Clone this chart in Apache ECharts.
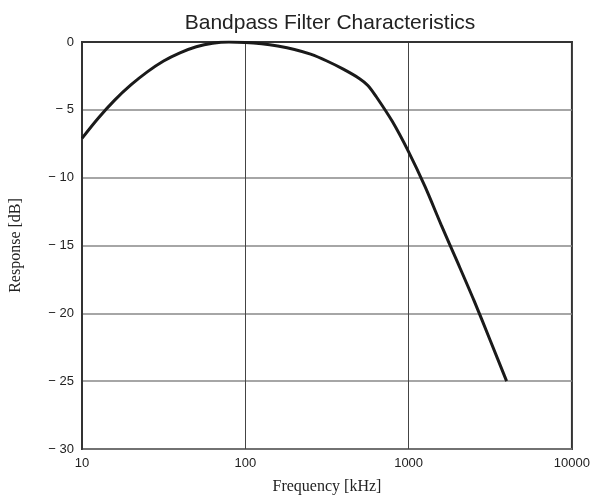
<!DOCTYPE html>
<html>
<head>
<meta charset="utf-8">
<script src="https://cdn.jsdelivr.net/npm/echarts@6/dist/echarts.min.js"></script>
<style>
  html, body { margin: 0; padding: 0; background: #fff; }
  #chart { width: 593px; height: 500px; }
</style>
</head>
<body>
<div id="chart"></div>
<script>
var freq = [10, 12.6, 15.8, 20, 25.1, 31.6, 39.8, 50.1, 63.1, 79.4, 100, 126, 158, 200, 251, 316, 398, 501, 563, 631, 794, 1000, 1259, 1585, 1995, 2512, 3162, 3981];
var resp = [-7.1, -5.6, -4.3, -3.15, -2.2, -1.4, -0.8, -0.35, -0.09, 0, -0.03, -0.13, -0.3, -0.55, -0.9, -1.4, -2.0, -2.7, -3.2, -4.0, -5.85, -8.1, -10.65, -13.5, -16.25, -19.05, -22.0, -25];

var chart = echarts.init(document.getElementById('chart'));

// pairs for the line
var points = freq.map(function(f, i) { return [f, resp[i]]; });

chart.setOption({
    animation: false,
    title: {
        text: 'Bandpass Filter Characteristics',
        left: 325, top: 8, textAlign: 'center',
        textStyle: { fontFamily: 'Liberation Sans', fontSize: 21, fontWeight: 'normal', color: '#222' }
    },
    grid: {
        left: 79, right: 21, top: 42, bottom: 50,
        show: true, borderColor: '#333', borderWidth: 2
    },
    xAxis: {
        type: 'log', logBase: 10, min: 10, max: 10000,
        name: 'Frequency [kHz]', nameLocation: 'middle', nameGap: 30,
        nameTextStyle: { fontFamily: 'Liberation Serif', fontSize: 16, color: '#222' },
        axisLine: { lineStyle: { color: '#333', width: 2 } },
        axisTick: { show: false },
        axisLabel: {
            fontFamily: 'Liberation Sans', fontSize: 13, color: '#222', margin: 8,
            formatter: function(v) { return String(Math.round(v)); }
        },
        splitLine: { lineStyle: { color: '#444', width: 1 } },
        minorSplitLine: { show: false }
    },
    yAxis: {
        type: 'value', min: -30, max: 0, interval: 5,
        name: 'Response [dB]', nameLocation: 'middle', nameGap: 58,
        nameTextStyle: { fontFamily: 'Liberation Serif', fontSize: 16, color: '#222' },
        axisLine: { show: true, lineStyle: { color: '#333', width: 2 } },
        axisTick: { show: false },
        axisLabel: {
            fontFamily: 'Liberation Sans', fontSize: 13, color: '#222', margin: 8,
            formatter: function(v) { return v < 0 ? '\u2212 ' + Math.abs(v) : String(v); }
        },
        splitLine: { lineStyle: { color: '#888', width: 1.5 } }
    },
    series: [{
        type: 'line',
        data: points,
        smooth: 0.3,
        symbol: 'none',
        lineStyle: { color: '#1a1a1a', width: 3 }
    }]
});
</script>
</body>
</html>
